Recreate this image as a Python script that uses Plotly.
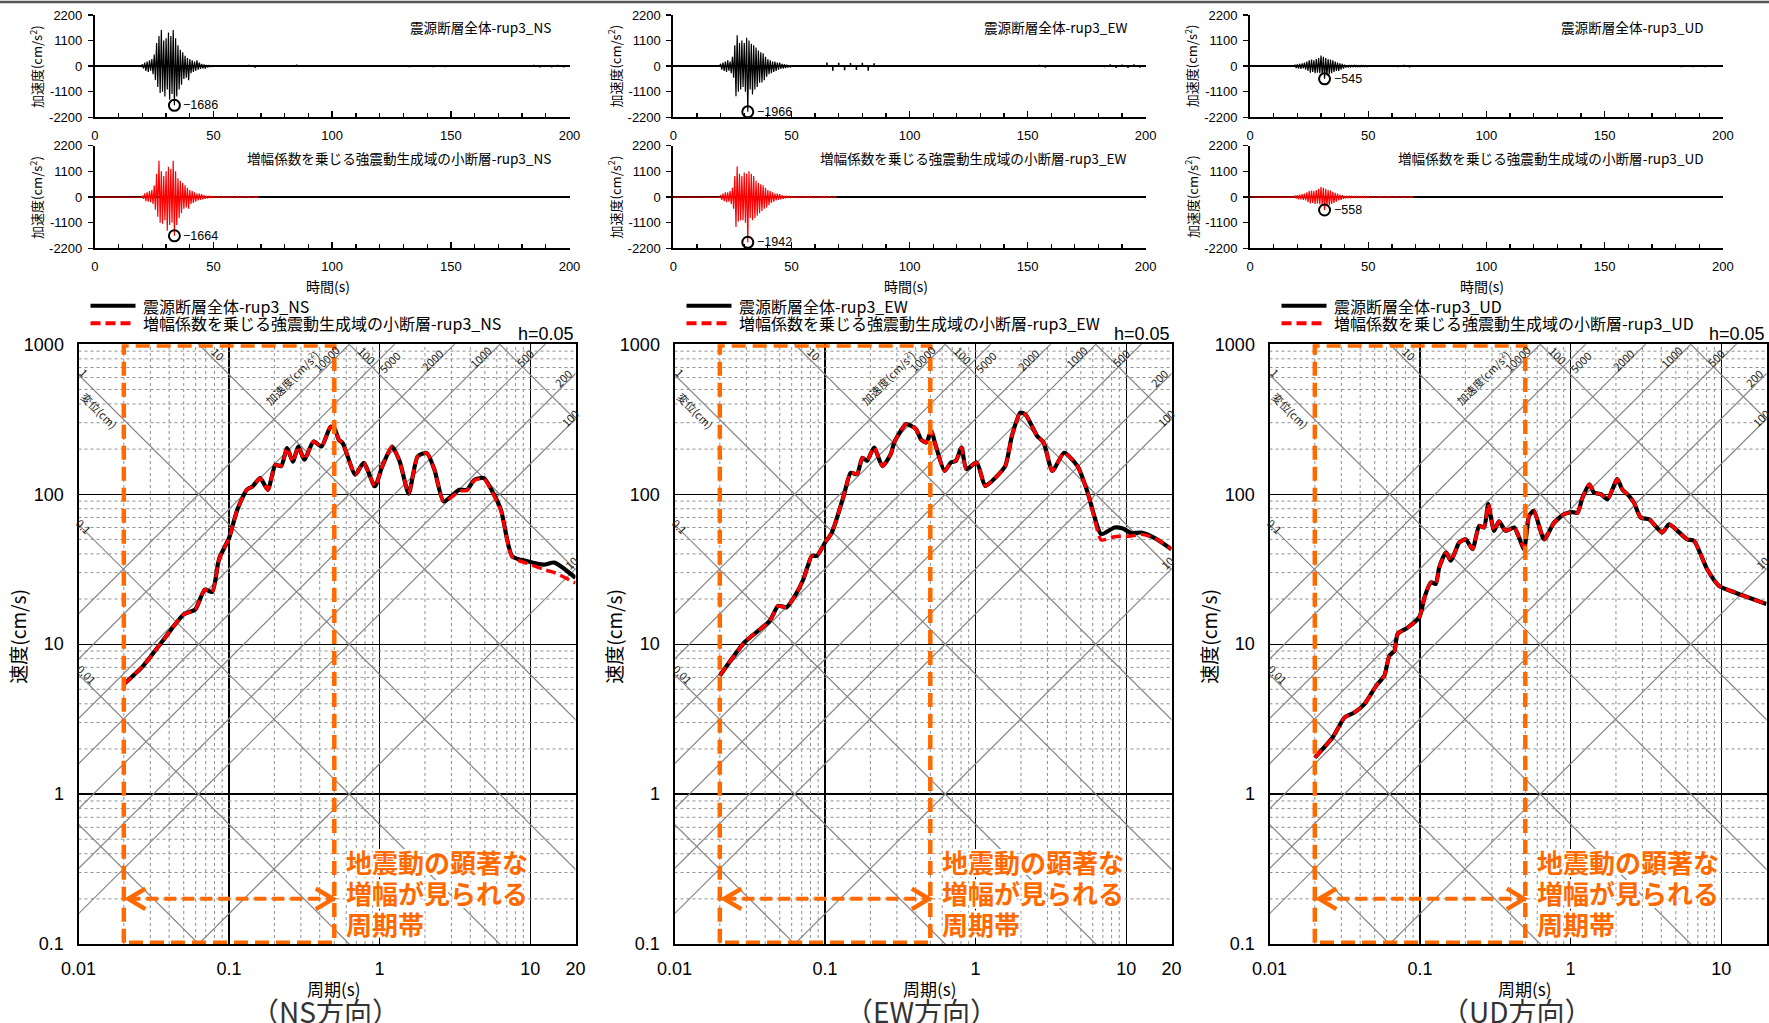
import numpy as np
import plotly.graph_objects as go

W, H = 1769, 1023

components = ["NS", "EW", "UD"]

# ---------------- acceleration time histories (cm/s^2) ----------------
# alternating peak values, every 0.5 s from 18 s to 49.5 s
ns_whole_main = [5, -5, 20, -20, 80, -100, 150, -200, 200, -250, 250, -200, 300, -350, 500, -600,
                 1000, -900, 1300, -1150, 1550, -1100, 1100, -1300, 1200, -1000, 1450, -1450, 1300, -1200, 1550, -1686,
                 1200, -1300, 900, -1000, 700, -800, 600, -550, 450, -500, 350, -600, 300, -300, 250, -250,
                 200, -200, 250, -150, 150, -120, 100, -100, 80, -100, 50, -50, 30, -30, 20, -20]
ns_sub_main = [5, -5, 10, -10, 60, -80, 150, -180, 200, -200, 250, -220, 300, -300, 500, -550,
               1000, -850, 1550, -1100, 1100, -1150, 900, -1000, 1100, -1450, 1300, -1200, 1200, -1100, 1550, -1664,
               1100, -1200, 800, -900, 700, -700, 600, -500, 500, -450, 400, -500, 300, -300, 250, -250,
               200, -200, 150, -150, 150, -120, 120, -100, 80, -80, 40, -40, 30, -30, 25, -25]
ew_whole_main = [5, -5, 10, -10, 100, -150, 150, -200, 200, -250, 250, -200, 200, -300, 400, -500,
                 900, -1297, 1325, -1100, 1000, -1000, 1100, -900, 1000, -1100, 1224, -1966, 1100, -1000, 960, -1224,
                 900, -1000, 800, -900, 670, -714, 600, -700, 550, -600, 400, -450, 300, -350, 250, -300,
                 200, -250, 200, -200, 150, -150, 150, -120, 100, -100, 80, -80, 60, -60, 40, -40]
ew_sub_main = [5, -5, 10, -10, 80, -120, 150, -180, 200, -220, 200, -200, 250, -300, 400, -500,
               900, -1282, 1311, -1050, 1000, -1000, 900, -1000, 1049, -1100, 1000, -1942, 1100, -900, 1000, -1000,
               900, -900, 700, -800, 600, -700, 550, -600, 500, -500, 400, -450, 300, -350, 250, -250,
               200, -200, 150, -150, 150, -120, 120, -100, 80, -80, 40, -40, 30, -30, 25, -25]
ud_whole_main = [5, -5, 60, -80, 80, -100, 100, -120, 120, -100, 150, -150, 200, -200, 250, -280,
                 280, -250, 250, -300, 300, -280, 350, -300, 452, -350, 400, -545, 350, -400, 300, -350,
                 280, -300, 250, -250, 200, -200, 150, -200, 120, -150, 100, -100, 60, -60, 40, -40,
                 30, -35, 30, -30, 35, -30, 30, -30, 25, -30, 30, -25, 25, -25, 25, -25]
ud_sub_main = [5, -5, 50, -70, 80, -100, 100, -100, 120, -120, 150, -150, 200, -220, 250, -280,
               280, -250, 250, -300, 300, -280, 350, -320, 430, -350, 400, -558, 350, -400, 300, -350,
               280, -300, 220, -250, 180, -200, 150, -150, 100, -120, 80, -80, 40, -40, 30, -30,
               30, -30, 30, -30, 25, -25, 25, -25, 25, -25, 25, -25, 25, -25, 25, -25]

# later part of the whole-fault records: spikes every 2.5 s from 50 s to 200 s
ns_whole_tail = [20, -20, 15, -15, 15, -20, 60, -70, 50, -15, 15, -15, 15, -20, 70, -20, 15, -15, 15, -15,
                 15, -15, 20, -20, 20, -20, 25, -30, 40, -40, 35, -40, 40, -45, 40, -40, 45, -45, 40, -50,
                 40, -30, 20, -15, 15, -15, 15, -15, 15, -15, 15, -15, 20, -40, 60, -60, 50, -60, 60, -60, 0]
ew_whole_tail = [30, -30, 25, -25, 30, -40, 160, -200, 150, -180, 140, -170, 150, -200, 120, -40, 25, -25, 20, -20,
                 20, -20, 20, -20, 20, -20, 20, -25, 25, -25, 25, -25, 25, -25, 25, -25, 25, -25, 25, -25,
                 30, -30, 60, -70, 40, -20, 15, -15, 15, -15, 15, -15, 20, -50, 80, -80, 70, -80, 80, -70, 0]
ud_whole_tail = [25, -25, 20, -20, 25, -50, 60, -60, 20, -25, 50, -40, 50, -25, 20, -20, 30, -30, 30, -30,
                 30, -30, 30, -30, 30, -30, 30, -35, 35, -35, 35, -35, 35, -35, 35, -35, 35, -40, 40, -40,
                 30, -15, 10, -10, 10, -10, 10, -10, 10, -10, 10, -10, 15, -50, 50, -50, 40, -50, 50, -40, 0]
# later part of the sub-fault records: values every 1 s from 50 s to 69 s
ns_sub_tail = [25, -25, 20, -25, 25, -20, 25, -25, 20, -20, 25, -25, 20, -20, 25, -25, 20, -20, 15, -15]
ew_sub_tail = [25, -25, 25, -25, 20, -25, 25, -20, 25, -25, 20, -20, 25, -25, 20, -25, 20, -20, 15, -15]
ud_sub_tail = [25, -25, 20, -20, 25, -25, 20, -20, 25, -25, 20, -20, 25, -20, 20, -25, 20, -20, 15, -15]

th_ticks = [2200, 1100, 0, -1100, -2200]
th_ticktext = ["2200", "1100", "0", "-1100", "-2200"]
time_ticks = [0, 50, 100, 150, 200]

# ---------------- pseudo-velocity response spectra (h=0.05) ----------------
ns_T = [0.02, 0.027, 0.0362, 0.05, 0.0596, 0.069, 0.0773, 0.0846, 0.0871, 0.1, 0.1067, 0.1134, 0.131, 0.1434,
        0.161, 0.181, 0.203, 0.222, 0.243, 0.265, 0.289, 0.316, 0.364, 0.411, 0.472, 0.50, 0.536, 0.569, 0.69,
        0.783, 0.93, 1.04, 1.21, 1.36, 1.56, 1.79, 2.06, 2.31, 2.66, 3.07, 3.38, 3.80, 4.27, 4.93, 5.53, 6.39,
        7.61, 9.6, 12.3, 14.5, 20]
ns_whole_sv = [5.4, 7.2, 10.5, 15.8, 17, 23.1, 22.3, 34.8, 38.5, 51, 64, 78.8, 107, 113, 128, 107, 157, 154, 203,
               165, 208, 170, 225, 208, 282, 276, 231, 219, 135, 162, 113, 153, 208, 165, 101, 179, 188, 146, 89.6,
               99, 107, 107, 125, 128, 107, 78.9, 38.5, 35.7, 33.9, 35, 27.7]
ns_sub_sv = [5.4, 7.2, 10.5, 15.8, 17, 23.1, 22.3, 34.8, 38.5, 51, 64, 78.8, 107, 113, 128, 107, 157, 154, 203,
             165, 208, 170, 225, 208, 282, 276, 231, 219, 135, 162, 113, 153, 208, 165, 101, 179, 188, 146, 89.6,
             97, 105, 106, 124, 127, 105, 78, 38, 34.5, 31.5, 30, 25.6]
ew_T = [0.02, 0.0292, 0.0429, 0.0488, 0.0555, 0.0631, 0.0718, 0.0817, 0.088, 0.1, 0.111, 0.133, 0.148, 0.163,
        0.177, 0.19, 0.2115, 0.2405, 0.273, 0.288, 0.344, 0.37, 0.403, 0.434, 0.47, 0.507, 0.544, 0.622, 0.686,
        0.74, 0.806, 0.868, 1.016, 1.156, 1.28, 1.573, 1.742, 1.98, 2.14, 2.56, 2.83, 3.235, 3.87, 4.75, 5.55,
        6.13, 6.82, 8.38, 9.5, 10.8, 12.6, 15.5, 20]
ew_whole_sv = [6.15, 10.3, 14.3, 18.0, 17.6, 21.0, 27.1, 38.8, 38.8, 47.6, 55.5, 97.5, 139, 136, 175, 167, 205,
               154, 185, 221, 293, 287, 271, 232, 221, 264, 210, 143, 163, 167, 205, 147, 163, 113.6, 122, 154,
               245, 350, 341, 245, 221, 143, 189, 154, 102.6, 71.8, 54.1, 60, 59, 55, 55.5, 51, 43]
ew_sub_sv = [6.15, 10.3, 14.3, 18.0, 17.6, 21.0, 27.1, 38.8, 38.8, 47.6, 55.5, 97.5, 139, 136, 175, 167, 205,
             154, 185, 221, 293, 287, 271, 232, 221, 264, 210, 143, 163, 167, 205, 147, 163, 113.6, 122, 154,
             245, 350, 341, 245, 221, 143, 189, 154, 102.6, 70, 49.5, 52, 52.5, 52.5, 54, 51, 43]
ud_T = [0.02, 0.0263, 0.0315, 0.0366, 0.0427, 0.0511, 0.0579, 0.0625, 0.0675, 0.071, 0.0827, 0.0989, 0.107,
        0.118, 0.127, 0.134, 0.1485, 0.16, 0.182, 0.201, 0.223, 0.247, 0.266, 0.2835, 0.31, 0.334, 0.37, 0.422,
        0.45, 0.491, 0.53, 0.57, 0.667, 0.777, 0.905, 1.03, 1.11, 1.2, 1.33, 1.43, 1.59, 1.76, 2.04, 2.2, 2.44,
        2.63, 2.92, 3.33, 3.65, 4.06, 4.5, 4.98, 5.95, 6.6, 8.07, 9.67, 11.5, 14.1, 20]
ud_whole_sv = [1.75, 2.39, 3.24, 3.5, 3.98, 5.27, 6.15, 8.36, 9.0, 11.7, 12.9, 15.1, 20.5, 25.8, 25.2, 32.4,
               40.8, 36, 47.6, 50, 43, 61.5, 60, 85.8, 57, 66, 57, 60, 52.8, 43, 71.8, 77.4, 50, 64.8, 73.6, 76,
               75, 95, 116.6, 102.6, 100, 92.6, 126, 108, 97.5, 88, 69.9, 68, 61.5, 55.5, 63, 58.6, 50, 48.9,
               31.6, 24.5, 22.7, 21, 18.5]
ud_sub_sv = [1.75, 2.39, 3.24, 3.5, 3.98, 5.27, 6.15, 8.36, 9.0, 11.7, 12.9, 15.1, 20.5, 25.8, 25.2, 32.4,
             40.8, 36, 47.6, 50, 43, 61.5, 60, 85.8, 57, 66, 57, 60, 52.8, 44, 71.8, 77.4, 50, 64.8, 73.6, 76,
             75, 95, 116.6, 102.6, 100, 92.6, 126, 108, 97.5, 88, 69.9, 68, 61.5, 55.5, 63, 58.6, 50, 48.9,
             31.6, 24.5, 22.7, 21, 18.5]

sp_xticks = [0.01, 0.1, 1, 10, 20]
sp_xticktext = ["0.01", "0.1", "1", "10", "20"]
sp_yticks = [0.1, 1, 10, 100, 1000]
sp_yticktext = ["0.1", "1", "10", "100", "1000"]

disp_lines = [0.001, 0.01, 0.1, 1, 10, 100, 1000]           # cm
acc_lines = [10, 100, 200, 500, 1000, 2000, 5000, 10000]     # cm/s^2
band_T = [0.02, 0.5]
arrow_sv = 0.2
band_text = ["地震動の顕著な", "増幅が見られる", "周期帯"]

whole_names = {c: f"震源断層全体-rup3_{c}" for c in components}
sub_names = {c: f"増幅係数を乗じる強震動生成域の小断層-rup3_{c}" for c in components}

th_data = {
    "NS": (ns_whole_main, ns_whole_tail, ns_sub_main, ns_sub_tail),
    "EW": (ew_whole_main, ew_whole_tail, ew_sub_main, ew_sub_tail),
    "UD": (ud_whole_main, ud_whole_tail, ud_sub_main, ud_sub_tail),
}
sp_data = {
    "NS": (ns_T, ns_whole_sv, ns_sub_sv),
    "EW": (ew_T, ew_whole_sv, ew_sub_sv),
    "UD": (ud_T, ud_whole_sv, ud_sub_sv),
}

# labels of the tripartite grid: text, period, velocity, angle
grid_labels = [
    ("1", 0.0108, 650, 45), ("変位(cm)", 0.0137, 365, 45), ("0.1", 0.0108, 61, 45), ("0.01", 0.0113, 6.3, 45),
    ("10", 0.0849, 861, 45), ("100", 0.822, 849, 45),
    ("加速度(cm/s<sup>2</sup>)", 0.262, 600, -45), ("10000", 0.446, 807, -45), ("5000", 1.16, 766, -45),
    ("2000", 2.22, 786, -45), ("1000", 4.65, 827, -45), ("500", 9.17, 807, -45), ("200", 16.5, 594, -45),
    ("100", 18.3, 321, -45), ("10", 18.6, 34.8, -45),
]

# ---------------- layout geometry (pixels) ----------------
TH_X = [(94.9, 569.5), (673.4, 1145.7), (1250.1, 1722.8)]
TH_Y = [(15.0, 117.3), (145.7, 248.3)]
SP_X = [(78.5, 575.5), (674.5, 1171.5), (1269.5, 1766.5)]
SP_Y = (344.3, 944.0)

FONT = "Liberation Sans, Noto Sans CJK JP, sans-serif"
JFONT = "Noto Sans CJK JP, Liberation Sans, sans-serif"
ORANGE = "#FF6A00"
RED = "#FF0000"


def xid(i):
    return "x" if i == 1 else f"x{i}"


def yid(i):
    return "y" if i == 1 else f"y{i}"


def xkey(i):
    return "xaxis" if i == 1 else f"xaxis{i}"


def ykey(i):
    return "yaxis" if i == 1 else f"yaxis{i}"


def PX(x):
    return x / W


def PY(y):
    return 1 - y / H


fig = go.Figure()
layout = {}
ann = []
shapes = []

# ---------------- time histories ----------------
for c, comp in enumerate(components):
    xl, xr = TH_X[c]
    wm, wt, sm, st = th_data[comp]
    for r in range(2):
        i = c * 2 + r + 1
        yt, yb = TH_Y[r]
        layout[xkey(i)] = dict(
            domain=[PX(xl), PX(xr)], anchor=yid(i), range=[0, 200], tickvals=time_ticks, automargin=False,
            ticks="inside", ticklen=6, tickwidth=1.5, tickcolor="black",
            minor=dict(dtick=10, tick0=0, ticks="inside", ticklen=4, tickwidth=1.2, tickcolor="black"),
            showline=True, linecolor="black", linewidth=2, showgrid=False, zeroline=False,
            tickfont=dict(family=FONT, size=13, color="black"), ticklabelstandoff=5, fixedrange=True)
        layout[ykey(i)] = dict(
            domain=[PY(yb), PY(yt)], anchor=xid(i), range=[-2200, 2200], tickvals=th_ticks, automargin=False,
            ticktext=th_ticktext, ticks="outside", ticklen=5, tickwidth=1.5, tickcolor="black",
            showline=True, linecolor="black", linewidth=2, showgrid=False,
            zeroline=True, zerolinecolor="black", zerolinewidth=1.5,
            tickfont=dict(family=FONT, size=13, color="black"), ticklabelstandoff=3, fixedrange=True)

        if r == 0:
            main, tail, col, name = wm, wt, "black", whole_names[comp]
            t_main = 18.0 + 0.5 * np.arange(len(main))
            t_tail = 50.0 + 2.5 * np.arange(len(tail))
            # main part as a continuous trace, later part as individual spikes
            fig.add_trace(go.Scatter(x=np.concatenate([[0.0], t_main, [50.0, 200.0]]),
                                     y=np.concatenate([[0.0], main, [0.0, 0.0]]),
                                     mode="lines", line=dict(color=col, width=1.2),
                                     xaxis=xid(i), yaxis=yid(i), hoverinfo="skip", showlegend=False))
            sx, sy = [], []
            for tt, aa in zip(t_tail, tail):
                sx += [tt, tt, None]
                sy += [0, aa, None]
            fig.add_trace(go.Scatter(x=sx, y=sy, mode="lines", line=dict(color=col, width=1.6),
                                     xaxis=xid(i), yaxis=yid(i), hoverinfo="skip", showlegend=False))
            t_all = np.concatenate([t_main, t_tail])
            a_all = np.concatenate([main, tail])
        else:
            main, tail, col, name = sm, st, RED, sub_names[comp]
            t_all = np.concatenate([[0.0], 18.0 + 0.5 * np.arange(len(main)), 50.0 + 1.0 * np.arange(len(tail))])
            a_all = np.concatenate([[0.0], main, tail])
            fig.add_trace(go.Scatter(x=t_all, y=a_all, mode="lines", line=dict(color=col, width=1.2),
                                     xaxis=xid(i), yaxis=yid(i), hoverinfo="skip", showlegend=False))
        k = int(np.argmin(a_all))
        fig.add_trace(go.Scatter(x=[t_all[k]], y=[a_all[k]], mode="markers",
                                 marker=dict(symbol="circle-open", size=11, color="black", line=dict(width=2)),
                                 xaxis=xid(i), yaxis=yid(i), hoverinfo="skip", showlegend=False))
        ann.append(dict(x=t_all[k], y=a_all[k], xref=xid(i), yref=yid(i), text=f"−{abs(int(a_all[k]))}",
                        showarrow=False, xanchor="left", yanchor="middle", xshift=7,
                        font=dict(family=FONT, size=12.5, color="black")))
        ann.append(dict(x=PX(xr - 17), y=PY(yt + 12), xref="paper", yref="paper", text=name, showarrow=False,
                        xanchor="right", yanchor="middle", font=dict(family=JFONT, size=13.6, color="black")))
        ann.append(dict(x=PX(xl - 59), y=PY((yt + yb) / 2), xref="paper", yref="paper",
                        text="加速度(cm/s<sup>2</sup>)", textangle=-90, showarrow=False,
                        xanchor="center", yanchor="middle", font=dict(family=JFONT, size=13, color="black")))
    ann.append(dict(x=PX((xl + xr) / 2 - 4), y=PY(286), xref="paper", yref="paper", text="時間(s)",
                    showarrow=False, xanchor="center", yanchor="middle",
                    font=dict(family=JFONT, size=14, color="black")))

# ---------------- response spectra ----------------
TWO_PI = 2 * np.pi
for c, comp in enumerate(components):
    i = 7 + c
    xl, xr = SP_X[c]
    yt, yb = SP_Y
    layout[xkey(i)] = dict(
        domain=[PX(xl), PX(xr)], anchor=yid(i), type="log", range=[-2, np.log10(20)], automargin=False,
        tickvals=sp_xticks, ticktext=sp_xticktext, ticks="", showgrid=True, gridcolor="black", gridwidth=1.3,
        showline=True, mirror=True, linecolor="black", linewidth=2, zeroline=False,
        tickfont=dict(family=FONT, size=18, color="black"), ticklabelstandoff=7, fixedrange=True)
    layout[ykey(i)] = dict(
        domain=[PY(yb), PY(yt)], anchor=xid(i), type="log", range=[-1, 3], automargin=False,
        tickvals=sp_yticks, ticktext=sp_yticktext, ticks="", showgrid=True, gridcolor="black", gridwidth=1.3,
        showline=True, mirror=True, linecolor="black", linewidth=2, zeroline=False,
        tickfont=dict(family=FONT, size=18, color="black"), ticklabelstandoff=9, fixedrange=True)

    # minor dotted grid
    gx, gy = [], []
    for dec in [0.01, 0.1, 1]:
        for m in range(2, 10):
            gx += [m * dec, m * dec, None]
            gy += [0.1, 1000, None]
    for dec in [0.1, 1, 10, 100]:
        for m in range(2, 10):
            gx += [0.01, 20, None]
            gy += [m * dec, m * dec, None]
    fig.add_trace(go.Scatter(x=gx, y=gy, mode="lines", line=dict(color="#8f8f8f", width=1, dash="dot"),
                             xaxis=xid(i), yaxis=yid(i), hoverinfo="skip", showlegend=False))
    # tripartite diagonals
    dx, dy = [], []
    Ta, Tb = 0.004, 50.0
    for D in disp_lines:
        dx += [Ta, Tb, None]
        dy += [TWO_PI * D / Ta, TWO_PI * D / Tb, None]
    for A in acc_lines:
        dx += [Ta, Tb, None]
        dy += [A * Ta / TWO_PI, A * Tb / TWO_PI, None]
    fig.add_trace(go.Scatter(x=dx, y=dy, mode="lines", line=dict(color="#858585", width=1.2),
                             xaxis=xid(i), yaxis=yid(i), hoverinfo="skip", showlegend=False))
    for txt, T, S, ang in grid_labels:
        ann.append(dict(x=np.log10(T), y=np.log10(S), xref=xid(i), yref=yid(i), text=txt, showarrow=False,
                        textangle=ang, xanchor="center", yanchor="middle",
                        font=dict(family=JFONT, size=11, color="#222")))

    T, sw, ss = sp_data[comp]
    fig.add_trace(go.Scatter(x=T, y=sw, mode="lines", line=dict(color="black", width=4.2, shape="spline",
                                                                 smoothing=0.6),
                             xaxis=xid(i), yaxis=yid(i), hoverinfo="skip", showlegend=False))
    fig.add_trace(go.Scatter(x=T, y=ss, mode="lines", line=dict(color=RED, width=3.4, dash="10px,5px",
                                                                 shape="spline", smoothing=0.6),
                             xaxis=xid(i), yaxis=yid(i), hoverinfo="skip", showlegend=False))

    # orange band of significant amplification
    t0, t1 = band_T
    s_lo, s_hi = 0.1 * 1.02, 1000 / 1.02
    fig.add_trace(go.Scatter(x=[t0, t0, t1, t1, t0], y=[s_lo, s_hi, s_hi, s_lo, s_lo], mode="lines",
                             line=dict(color=ORANGE, width=4.5, dash="14px,7px"),
                             xaxis=xid(i), yaxis=yid(i), hoverinfo="skip", showlegend=False))
    la, ra = t0 * 1.07, t1 / 1.02
    fig.add_trace(go.Scatter(x=[la, ra], y=[arrow_sv, arrow_sv], mode="lines",
                             line=dict(color=ORANGE, width=4, dash="12px,6px"),
                             xaxis=xid(i), yaxis=yid(i), hoverinfo="skip", showlegend=False))
    fx, fy = 1.30, 1.17
    fig.add_trace(go.Scatter(x=[la * fx, la, la * fx, None, ra / fx, ra, ra / fx],
                             y=[arrow_sv * fy, arrow_sv, arrow_sv / fy, None, arrow_sv * fy, arrow_sv, arrow_sv / fy],
                             mode="lines", line=dict(color=ORANGE, width=4.5),
                             xaxis=xid(i), yaxis=yid(i), hoverinfo="skip", showlegend=False))
    for li, line_txt in enumerate(band_text):
        ann.append(dict(x=np.log10(t1 * 1.165), y=np.log10(0.222), xref=xid(i), yref=yid(i),
                        text=f"<b>{line_txt}</b>", showarrow=False, align="left",
                        xanchor="left", yanchor="middle", yshift=(1 - li) * 31,
                        font=dict(family=JFONT, size=26, color=ORANGE,
                                  shadow="2px 2px 0 #fff, -2px -2px 0 #fff, 2px -2px 0 #fff, -2px 2px 0 #fff")))

    # legend
    shapes.append(dict(type="line", xref="paper", yref="paper", x0=PX(xl + 12), x1=PX(xl + 57),
                       y0=PY(305.7), y1=PY(305.7), line=dict(color="black", width=4)))
    shapes.append(dict(type="line", xref="paper", yref="paper", x0=PX(xl + 12), x1=PX(xl + 57),
                       y0=PY(323.3), y1=PY(323.3), line=dict(color=RED, width=4, dash="10px,5px")))
    ann.append(dict(x=PX(xl + 62), y=PY(305.7), xref="paper", yref="paper", text=whole_names[comp],
                    showarrow=False, xanchor="left", yanchor="middle",
                    font=dict(family=JFONT, size=16, color="black")))
    ann.append(dict(x=PX(xl + 62), y=PY(323.3), xref="paper", yref="paper", text=sub_names[comp],
                    showarrow=False, xanchor="left", yanchor="middle",
                    font=dict(family=JFONT, size=16, color="black")))
    ann.append(dict(x=PX(xr), y=PY(334), xref="paper", yref="paper", text="h=0.05", showarrow=False,
                    xanchor="right", yanchor="middle", font=dict(family=FONT, size=18, color="black")))
    ann.append(dict(x=PX((xl + xr) / 2 + 6), y=PY(988), xref="paper", yref="paper", text="周期(s)",
                    showarrow=False, xanchor="center", yanchor="middle",
                    font=dict(family=JFONT, size=17, color="black")))
    ann.append(dict(x=PX((xl + xr) / 2 - 2), y=PY(1011), xref="paper", yref="paper", text=f"（{comp}方向）",
                    showarrow=False, xanchor="center", yanchor="middle",
                    font=dict(family=JFONT, size=28, color="#333")))
    ann.append(dict(x=PX(xl - 61), y=PY((yt + yb) / 2 - 7), xref="paper", yref="paper", text="速度(cm/s)",
                    textangle=-90, showarrow=False, xanchor="center", yanchor="middle",
                    font=dict(family=JFONT, size=19, color="black")))

shapes.append(dict(type="line", xref="paper", yref="paper", x0=0, x1=1, y0=PY(2), y1=PY(2),
                   line=dict(color="#555", width=2.5)))

fig.update_layout(
    width=W, height=H, margin=dict(l=0, r=0, t=0, b=0, autoexpand=False),
    paper_bgcolor="white", plot_bgcolor="white", showlegend=False, hovermode=False,
    font=dict(family=FONT, color="black"),
    annotations=ann, shapes=shapes, **layout)

fig.write_html("out.html", config={"displayModeBar": False, "staticPlot": True},
               post_script="document.body.style.margin='0px'; document.body.style.overflow='hidden';")
